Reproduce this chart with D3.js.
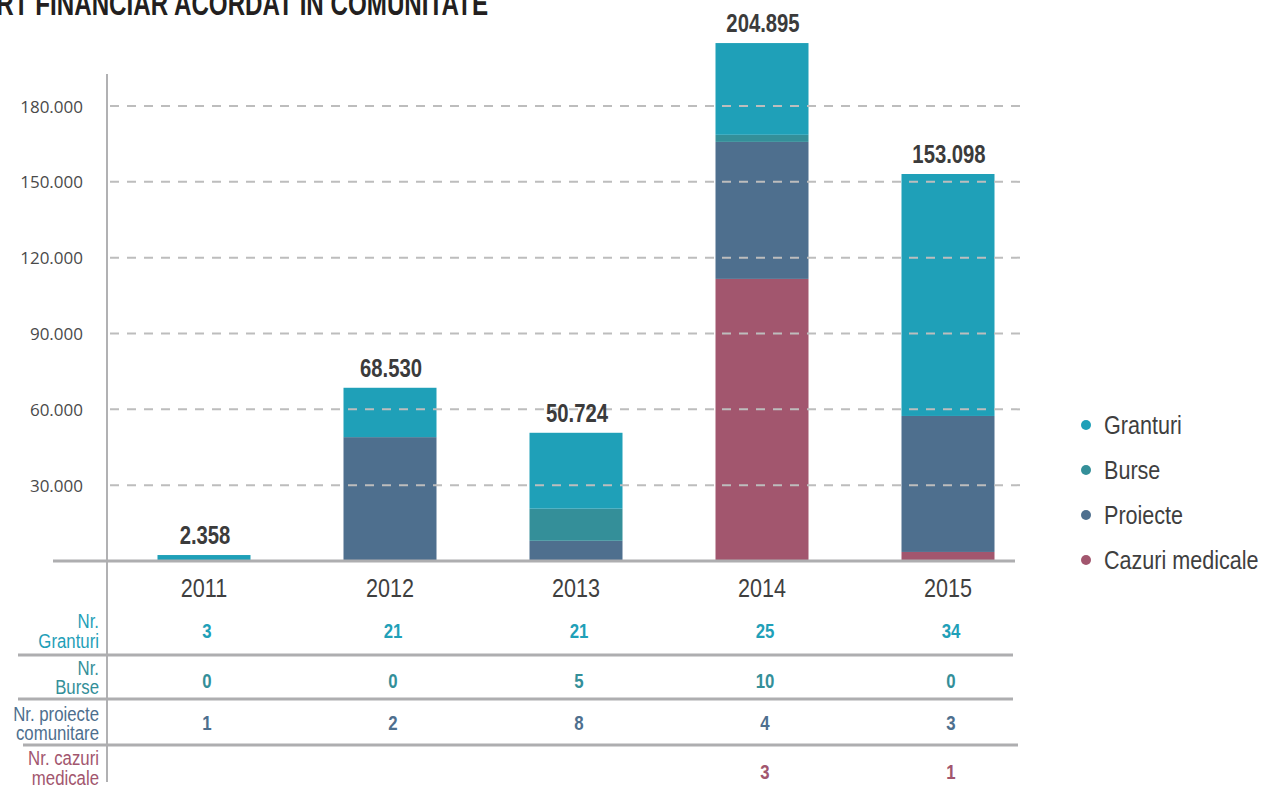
<!DOCTYPE html>
<html>
<head>
<meta charset="utf-8">
<script src="https://cdn.jsdelivr.net/npm/d3@7"></script>
<style>
  body { margin: 0; background: #fff; }
  svg { display: block; }
  .cond { font-family: "Liberation Sans", Arial, sans-serif; }
</style>
</head>
<body>
<div id="container"></div>
<script>
/* CONSTANTS AND GLOBALS */
const width = 1264,
  height = 787;
// no condensed face installed, so squeeze Liberation Sans horizontally
const narrow = 0.82;

/* DATA */
const years = ['2011', '2012', '2013', '2014', '2015'];
const granturi = [2358, 19530, 30024, 36295, 95718];
const burse = [0, 0, 12700, 2800, 0];
const proiecte = [0, 49000, 8000, 54200, 53800];
const medicale = [0, 0, 0, 111600, 3580];
const totals = [2358, 68530, 50724, 204895, 153098];
const yTicks = [30000, 60000, 90000, 120000, 150000, 180000];

const nrGranturi = [3, 21, 21, 25, 34];
const nrBurse = [0, 0, 5, 10, 0];
const nrProiecte = [1, 2, 8, 4, 3];
const nrCazuri = [null, null, null, 3, 1];

const series = [
  { key: 'Cazuri medicale', values: medicale, color: '#a2566e' },
  { key: 'Proiecte', values: proiecte, color: '#4e6f8e' },
  { key: 'Burse', values: burse, color: '#348f99' },
  { key: 'Granturi', values: granturi, color: '#1fa0b8' }
];

const fmt = d => d3.format(',')(d).replace(/,/g, '.');

// SCALES
const xScale = d3.scaleBand()
  .domain(years)
  .range([111, 1041])
  .paddingInner(0.5)
  .paddingOuter(0.25);

const yScale = d3.scaleLinear()
  .domain([0, 180000])
  .range([561, 106]);

const cx = d => xScale(d) + xScale.bandwidth() / 2;

// CREATE SVG ELEMENT
const svg = d3.select('#container')
  .append('svg')
  .attr('width', width)
  .attr('height', height);

const squeeze = (x, y, s = narrow) => `translate(${x},${y}) scale(${s},1)`;

// TITLE (cut at the top-left like the source)
// measure the visible part so that it spans x = -4 .. 488
const probe = svg.append('text')
  .attr('class', 'cond')
  .attr('font-size', 33)
  .attr('font-weight', 'bold')
  .text('RT FINANCIAR ACORDAT IN COMUNITATE');
const titleScale = 492 / probe.node().getComputedTextLength();
probe.remove();

svg.append('text')
  .attr('class', 'cond')
  .attr('text-anchor', 'end')
  .attr('font-size', 33)
  .attr('font-weight', 'bold')
  .attr('fill', '#231f20')
  .attr('transform', squeeze(488, 15, titleScale))
  .text('SUPORT FINANCIAR ACORDAT IN COMUNITATE');

// STACKED BARS
const rows = years.map((y, i) => {
  const r = { year: y };
  series.forEach(s => r[s.key] = s.values[i]);
  return r;
});
const stacked = d3.stack().keys(series.map(s => s.key))(rows);

svg.append('g')
  .selectAll('g')
  .data(stacked)
  .join('g')
  .attr('fill', (d, i) => series[i].color)
  .selectAll('rect')
  .data(d => d)
  .join('rect')
  .attr('x', d => xScale(d.data.year))
  .attr('width', xScale.bandwidth())
  .attr('y', d => yScale(d[1]))
  .attr('height', d => yScale(d[0]) - yScale(d[1]));

// GRID (drawn over the bars)
svg.append('g')
  .selectAll('line')
  .data(yTicks)
  .join('line')
  .attr('x1', 109)
  .attr('x2', 1020)
  .attr('y1', d => yScale(d))
  .attr('y2', d => yScale(d))
  .attr('stroke', '#bdbdbd')
  .attr('stroke-width', 2)
  .attr('stroke-dasharray', '9,8')
  .attr('stroke-dashoffset', -1);

// Y AXIS LABELS
const yAxis = d3.axisLeft(yScale)
  .tickValues(yTicks)
  .tickSize(0)
  .tickPadding(24)
  .tickFormat(fmt);

svg.append('g')
  .attr('transform', 'translate(107,0)')
  .call(yAxis)
  .call(g => g.select('.domain').remove())
  .selectAll('text')
  .attr('font-family', '"Open Sans", sans-serif')
  .attr('font-size', 17)
  .attr('dy', '0.36em')
  .attr('fill', '#4a4a4a');

// AXIS LINES
svg.append('line')
  .attr('x1', 107).attr('x2', 107)
  .attr('y1', 74).attr('y2', 782)
  .attr('stroke', '#b1b1b3').attr('stroke-width', 2);

svg.append('line')
  .attr('x1', 53).attr('x2', 1015)
  .attr('y1', 561).attr('y2', 561)
  .attr('stroke', '#aeaeb0').attr('stroke-width', 3);

// TOTAL LABELS
svg.append('g')
  .selectAll('text')
  .data(totals)
  .join('text')
  .attr('class', 'cond')
  .attr('transform', (d, i) => squeeze(cx(years[i]) + 1, yScale(d) - 11, 0.78))
  .attr('text-anchor', 'middle')
  .attr('font-size', 26)
  .attr('font-weight', 'bold')
  .attr('fill', '#3b3b3b')
  .text(fmt);

// YEAR LABELS
svg.append('g')
  .selectAll('text')
  .data(years)
  .join('text')
  .attr('class', 'cond')
  .attr('transform', d => squeeze(cx(d), 597, 0.83))
  .attr('text-anchor', 'middle')
  .attr('font-size', 26)
  .attr('fill', '#3f3f3f')
  .text(d => d);

// TABLE BELOW
const tableRows = [
  { lines: ['Nr.', 'Granturi'], values: nrGranturi, color: '#1fa0b8', ly: [628, 648], vy: 638 },
  { lines: ['Nr.', 'Burse'], values: nrBurse, color: '#348f99', ly: [675, 694], vy: 688 },
  { lines: ['Nr. proiecte', 'comunitare'], values: nrProiecte, color: '#4e6f8e', ly: [721, 740], vy: 730 },
  { lines: ['Nr. cazuri', 'medicale'], values: nrCazuri, color: '#a2566e', ly: [765, 785], vy: 779 }
];
const separators = [
  { y: 655, x1: 18, x2: 1013 },
  { y: 699, x1: 18, x2: 1013 },
  { y: 745, x1: 23, x2: 1018 }
];

tableRows.forEach(r => {
  svg.append('g')
    .selectAll('text')
    .data(r.lines)
    .join('text')
    .attr('class', 'cond')
    .attr('transform', (t, j) => squeeze(99, r.ly[j], 0.8))
    .attr('text-anchor', 'end')
    .attr('font-size', 21)
    .attr('fill', r.color)
    .text(t => t);

  svg.append('g')
    .selectAll('text')
    .data(r.values)
    .join('text')
    .attr('class', 'cond')
    .attr('transform', (d, i) => squeeze(cx(years[i]) + 3, r.vy, 0.8))
    .attr('text-anchor', 'middle')
    .attr('font-size', 21)
    .attr('font-weight', 'bold')
    .attr('fill', r.color)
    .text(d => d === null ? '' : d);
});

svg.append('g')
  .selectAll('line')
  .data(separators)
  .join('line')
  .attr('x1', d => d.x1).attr('x2', d => d.x2)
  .attr('y1', d => d.y).attr('y2', d => d.y)
  .attr('stroke', '#aeaeb0').attr('stroke-width', 3);

// LEGEND
const legend = svg.append('g')
  .selectAll('g')
  .data(series.slice().reverse())
  .join('g')
  .attr('transform', (d, i) => `translate(1086, ${425 + i * 45})`);

legend.append('circle')
  .attr('r', 5)
  .attr('fill', d => d.color);

legend.append('text')
  .attr('class', 'cond')
  .attr('transform', squeeze(18, 9, 0.83))
  .attr('font-size', 26)
  .attr('fill', '#3f3f3f')
  .text(d => d.key);
</script>
</body>
</html>
